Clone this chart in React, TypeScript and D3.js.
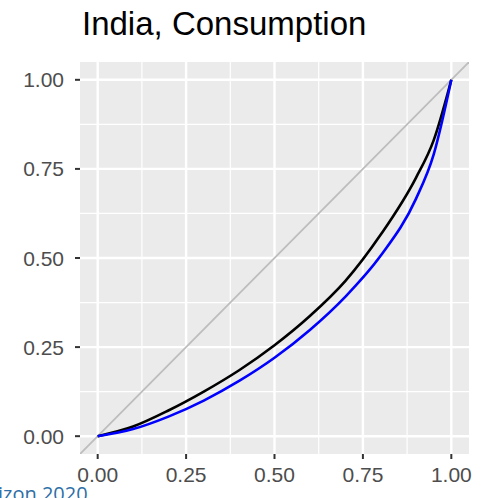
import * as React from 'react';
import * as d3 from 'd3';

const WIDTH = 487;
const HEIGHT = 498;

// population share (x) and cumulative consumption share for the two curves
const popShare = [0, 0.1, 0.2, 0.3, 0.4, 0.5, 0.6, 0.7, 0.8, 0.9, 0.95, 1];
const blackCurve = [0, 0.027, 0.072, 0.125, 0.185, 0.255, 0.337, 0.435, 0.565, 0.725, 0.83, 1];
const blueCurve = [0, 0.02, 0.055, 0.1, 0.155, 0.22, 0.298, 0.391, 0.506, 0.666, 0.79, 1];

const ticks = [0, 0.25, 0.5, 0.75, 1];
const minorTicks = [0.125, 0.375, 0.625, 0.875];
const tickLabels = ['0.00', '0.25', '0.50', '0.75', '1.00'];

const title = 'India, Consumption';
const footer = 'izon 2020';

const PANEL = { left: 80, right: 469, top: 62, bottom: 454 };

const x = d3.scaleLinear().domain([-0.05, 1.05]).range([PANEL.left, PANEL.right]);
const y = d3.scaleLinear().domain([-0.05, 1.05]).range([PANEL.bottom, PANEL.top]);

const line = d3
  .line<number>()
  .x((d, i) => x(popShare[i]))
  .y(d => y(d))
  .curve(d3.curveMonotoneX);

const FONT = '"Liberation Sans", Arial, sans-serif';

export default function App() {
  return (
    <svg
      width={WIDTH}
      height={HEIGHT}
      style={{ position: 'absolute', left: 0, top: 0, background: '#fff' }}
    >
      <text x={82} y={35} fontFamily={FONT} fontSize={33} fill="#000">
        {title}
      </text>

      <rect
        x={PANEL.left}
        y={PANEL.top}
        width={PANEL.right - PANEL.left}
        height={PANEL.bottom - PANEL.top}
        fill="#ebebeb"
      />

      {minorTicks.map(t => (
        <g key={'m' + t}>
          <line x1={x(t)} x2={x(t)} y1={PANEL.top} y2={PANEL.bottom} stroke="#fff" strokeWidth={1.2} />
          <line x1={PANEL.left} x2={PANEL.right} y1={y(t)} y2={y(t)} stroke="#fff" strokeWidth={1.2} />
        </g>
      ))}
      {ticks.map(t => (
        <g key={'M' + t}>
          <line x1={x(t)} x2={x(t)} y1={PANEL.top} y2={PANEL.bottom} stroke="#fff" strokeWidth={2.4} />
          <line x1={PANEL.left} x2={PANEL.right} y1={y(t)} y2={y(t)} stroke="#fff" strokeWidth={2.4} />
        </g>
      ))}

      <clipPath id="panelClip">
        <rect
          x={PANEL.left}
          y={PANEL.top}
          width={PANEL.right - PANEL.left}
          height={PANEL.bottom - PANEL.top}
        />
      </clipPath>
      <g clipPath="url(#panelClip)">
        <line
          x1={x(-0.05)}
          y1={y(-0.05)}
          x2={x(1.05)}
          y2={y(1.05)}
          stroke="#bdbdbd"
          strokeWidth={1.8}
        />
        <path d={line(blackCurve) ?? ''} fill="none" stroke="#000" strokeWidth={2.6} />
        <path d={line(blueCurve) ?? ''} fill="none" stroke="#0000ff" strokeWidth={2.6} />
      </g>

      {ticks.map((t, i) => (
        <g key={'x' + t}>
          <line x1={x(t)} x2={x(t)} y1={PANEL.bottom} y2={PANEL.bottom + 5} stroke="#333" strokeWidth={2} />
          <text
            x={x(t)}
            y={482}
            textAnchor="middle"
            fontFamily={FONT}
            fontSize={21}
            fill="#4d4d4d"
          >
            {tickLabels[i]}
          </text>
        </g>
      ))}
      {ticks.map((t, i) => (
        <g key={'y' + t}>
          <line x1={PANEL.left - 5} x2={PANEL.left} y1={y(t)} y2={y(t)} stroke="#333" strokeWidth={2} />
          <text
            x={64}
            y={y(t)}
            dy="0.36em"
            textAnchor="end"
            fontFamily={FONT}
            fontSize={21}
            fill="#4d4d4d"
          >
            {tickLabels[i]}
          </text>
        </g>
      ))}

      <text x={-2} y={501} fontFamily='"Open Sans", sans-serif' fontSize={20} fill="#2e6fa7">
        {footer}
      </text>
    </svg>
  );
}
